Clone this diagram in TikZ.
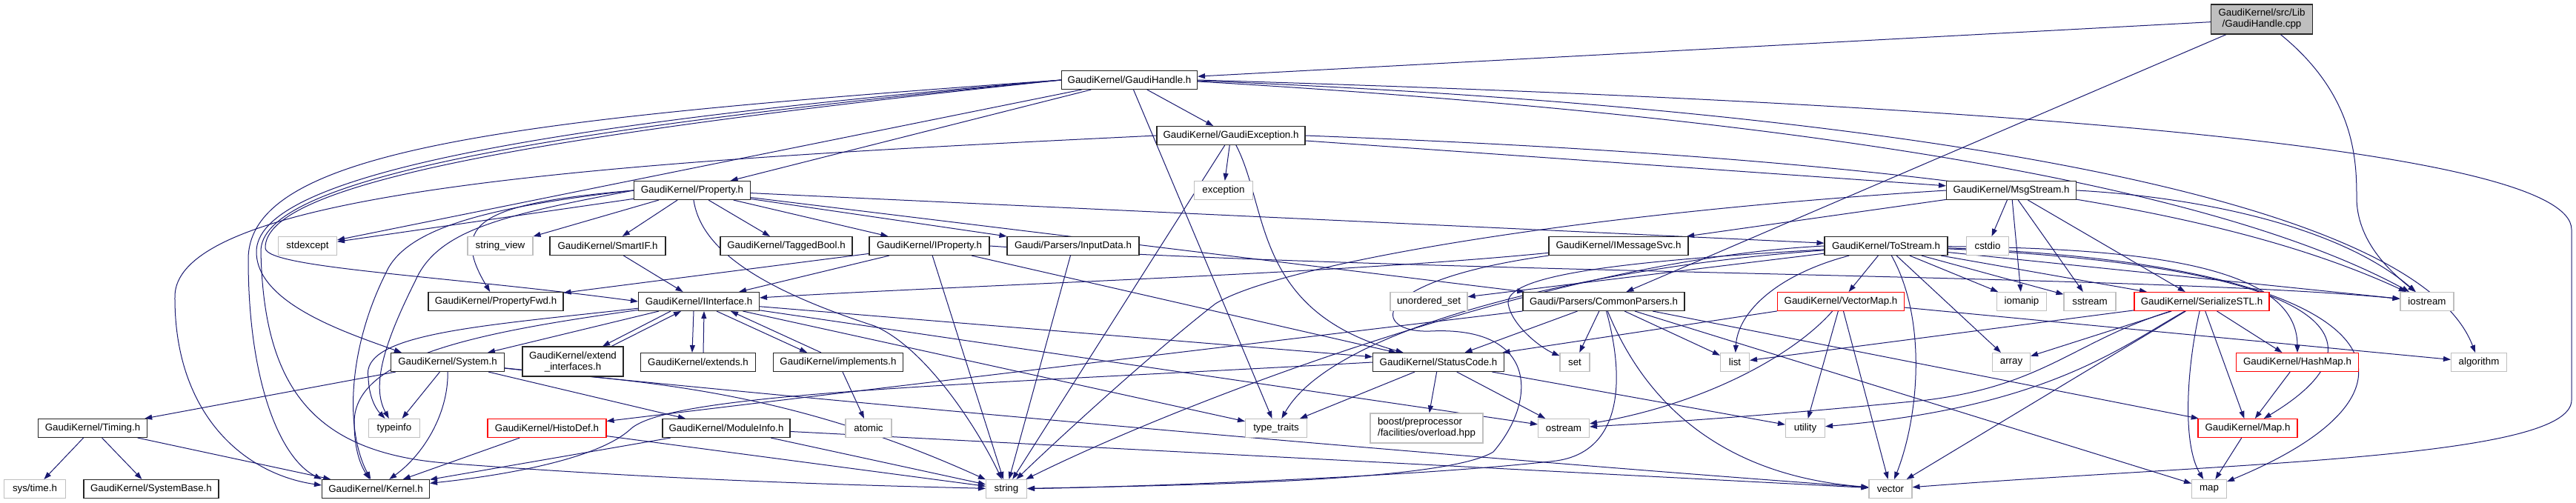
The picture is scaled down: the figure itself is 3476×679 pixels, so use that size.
\documentclass[tikz,border=0pt]{standalone}
\usepackage{fontspec}
\setmainfont{Liberation Sans}
\usetikzlibrary{arrows.meta,backgrounds}
\definecolor{edgecol}{HTML}{191970}
\definecolor{gray75}{HTML}{BFBFBF}
\newcommand\fsz{\fontsize{13.33}{15}\selectfont}
\tikzset{
  box/.style={rectangle, line width=1.1pt, minimum height=25, inner sep=2pt, font=\fsz, fill=white, text=black},
  nb/.style={box, draw=black!85},
  ng/.style={box, draw=gray75},
  nr/.style={box, draw=red},
  root/.style={box, draw=black!85, fill=gray75},
  e/.style={draw=edgecol, line width=1pt, -{Triangle[length=10pt,width=7pt]}},
}
\begin{document}
\begin{tikzpicture}[x=1pt,y=-1pt]
\useasboundingbox (0,0) rectangle (3476,679);
% nodes
\node[root, minimum width=137, minimum height=40, align=center] (cpp) at (3052,26) {GaudiKernel/src/Lib\\/GaudiHandle.cpp};
\node[nb, minimum width=183] (gh) at (1524,108) {GaudiKernel/GaudiHandle.h};
\node[nb, minimum width=200] (gex) at (1661,183) {GaudiKernel/GaudiException.h};
\node[ng, minimum width=79] (stdexcept) at (415,332) {stdexcept};
\node[nb, minimum width=157] (prop) at (934,257) {GaudiKernel/Property.h};
\node[nb, minimum width=175] (msgs) at (2714,257) {GaudiKernel/MsgStream.h};
\node[ng, minimum width=79] (exception) at (1651,257) {exception};
\node[ng, minimum width=88] (sv) at (675,332) {string\_view};
\node[nb, minimum width=156] (smartif) at (820,332) {GaudiKernel/SmartIF.h};
\node[nb, minimum width=178] (tagged) at (1061,332) {GaudiKernel/TaggedBool.h};
\node[nb, minimum width=162] (iprop) at (1254,332) {GaudiKernel/IProperty.h};
\node[nb, minimum width=178] (input) at (1448,332) {Gaudi/Parsers/InputData.h};
\node[nb, minimum width=188] (imsg) at (2184,332) {GaudiKernel/IMessageSvc.h};
\node[nb, minimum width=166] (tostream) at (2545,332) {GaudiKernel/ToStream.h};
\node[ng, minimum width=57] (cstdio) at (2682,332) {cstdio};
\node[nb, minimum width=182] (pfwd) at (669,407) {GaudiKernel/PropertyFwd.h};
\node[nb, minimum width=163] (iint) at (943,407) {GaudiKernel/IInterface.h};
\node[ng, minimum width=104] (uset) at (1928,407) {unordered\_set};
\node[nb, minimum width=218] (cparse) at (2164,407) {Gaudi/Parsers/CommonParsers.h};
\node[nr, minimum width=171] (vmap) at (2484,407) {GaudiKernel/VectorMap.h};
\node[ng, minimum width=67] (iomanip) at (2728,407) {iomanip};
\node[ng, minimum width=70] (sstream) at (2820,407) {sstream};
\node[nr, minimum width=182] (ser) at (2971,407) {GaudiKernel/SerializeSTL.h};
\node[ng, minimum width=72] (iostream) at (3275,407) {iostream};
\node[nb, minimum width=153] (system) at (604,489) {GaudiKernel/System.h};
\node[nb, minimum width=136, minimum height=40, align=center] (extint) at (773,488) {GaudiKernel/extend\\\_interfaces.h};
\node[nb, minimum width=155] (extends) at (942,489) {GaudiKernel/extends.h};
\node[nb, minimum width=175] (impl) at (1131,489) {GaudiKernel/implements.h};
\node[nb, minimum width=177] (status) at (1941,489) {GaudiKernel/StatusCode.h};
\node[ng, minimum width=40] (set) at (2125,489) {set};
\node[ng, minimum width=39] (list) at (2341,489) {list};
\node[ng, minimum width=51] (array) at (2714,489) {array};
\node[nr, minimum width=165] (hashmap) at (3100,489) {GaudiKernel/HashMap.h};
\node[ng, minimum width=75] (algorithm) at (3345,489) {algorithm};
\node[nb, minimum width=147] (timing) at (125,578) {GaudiKernel/Timing.h};
\node[ng, minimum width=69] (typeinfo) at (532,578) {typeinfo};
\node[nr, minimum width=160] (histo) at (738,578) {GaudiKernel/HistoDef.h};
\node[nb, minimum width=172] (modinfo) at (980,578) {GaudiKernel/ModuleInfo.h};
\node[ng, minimum width=62] (atomic) at (1172,578) {atomic};
\node[ng, minimum width=83] (typetraits) at (1722,578) {type\_traits};
\node[ng, minimum width=152, minimum height=40, align=left] (boost) at (1925,578) {boost/preprocessor\\/facilities/overload.hpp};
\node[ng, minimum width=69] (ostream) at (2110,578) {ostream};
\node[ng, minimum width=53] (utility) at (2436,578) {utility};
\node[nr, minimum width=134] (maph) at (3033,578) {GaudiKernel/Map.h};
\node[ng, minimum width=83] (systime) at (47,660) {sys/time.h};
\node[nb, minimum width=182] (sysbase) at (204,660) {GaudiKernel/SystemBase.h};
\node[nb, minimum width=145] (kernel) at (507,660) {GaudiKernel/Kernel.h};
\node[ng, minimum width=55] (string) at (1358,660) {string};
\node[ng, minimum width=58] (vector) at (2551,660) {vector};
\node[ng, minimum width=47] (map) at (2981,660) {map};
\begin{pgfonlayer}{background}
\fill[white] (0,0) rectangle (3476,679);
% GaudiHandle.cpp
\draw[e] (cpp) -- (gh);
\draw[e] (cpp) -- (cparse);
\draw[e] (cpp) .. controls (3180,130) and (3180,220) .. (3180,270) .. controls (3182,330) and (3230,370) .. (iostream);
% GaudiHandle.h
\draw[e] (gh) -- (gex);
\draw[e] (gh) -- (prop);
\draw[e] (gh) -- (stdexcept);
\draw[e] (gh) -- (typetraits);
\draw[e] (gh.west) .. controls (700,160) and (335,200) .. (335,350) .. controls (335,520) and (380,620) .. (kernel.north west);
\draw[e] (gh.west) .. controls (700,170) and (346,240) .. (346,340) .. controls (346,410) and (470,450) .. ([xshift=15pt]system.north west);
\draw[e] (gh.west) .. controls (700,185) and (356,250) .. (358,335) .. controls (360,362) and (600,372) .. (iint.west);
\draw[e] (gh.west) .. controls (700,178) and (350,245) .. (352,340) .. controls (356,520) and (420,610) .. (600,625) .. controls (900,648) and (1150,655) .. (string);
\draw[e] ([yshift=-2pt]gh.east) .. controls (2300,150) and (2950,230) .. (iostream);
\draw[e] ([yshift=-1pt]gh.east) .. controls (2400,140) and (3250,240) .. (algorithm);
\draw[e] (gh.east) .. controls (2700,140) and (3470,200) .. (3470,310) -- (3470,540) .. controls (3470,620) and (3000,625) .. (vector);
% GaudiException.h
\draw[e] (gex) -- (exception);
\draw[e] (gex) -- (string);
\draw[e] (gex) -- (msgs);
\draw[e] (gex.west) .. controls (900,215) and (237,250) .. (236,400) .. controls (235,560) and (330,640) .. ([yshift=5pt]kernel.west);
\draw[e] (gex) .. controls (1712,280) and (1690,420) .. (status);
\draw[e] (gex.east) .. controls (2600,215) and (3000,280) .. (iostream);
% Property.h
\draw[e] (prop) -- (sv);
\draw[e] (prop) -- (smartif);
\draw[e] (prop) -- (tagged);
\draw[e] (prop) -- (iprop);
\draw[e] (prop) -- (input);
\draw[e] (prop) -- (tostream);
\draw[e] (prop) -- (cparse);
\draw[e] (prop) -- (stdexcept);
\draw[e] (prop.west) .. controls (680,290) and (590,310) .. (560,380) .. controls (520,460) and (500,520) .. (typeinfo);
\draw[e] (prop.west) .. controls (650,280) and (545,310) .. (520,370) .. controls (470,470) and (465,580) .. (kernel);
\draw[e] (prop.west) .. controls (650,275) and (605,300) .. (pfwd);
\draw[e] (prop) .. controls (945,330) and (1010,385) .. (1180,440) .. controls (1250,470) and (1320,580) .. (string);
% others row 3
\draw[e] (smartif) -- (iint);
\draw[e] (iprop) -- (iint);
\draw[e] (iprop) -- (pfwd);
\draw[e] (iprop) -- (string);
\draw[e] (iprop) -- (status);
\draw[e] (iprop.east) .. controls (1900,370) and (2900,370) .. (iostream);
\draw[e] (input) -- (string);
% IMessageSvc.h
\draw[e] (imsg) .. controls (1800,370) and (1300,385) .. (iint);
\draw[e] (imsg.south west) .. controls (1840,380) and (1850,450) .. (1930,447) .. controls (2075,440) and (2075,540) .. (2015,610) .. controls (1950,650) and (1600,655) .. (string);
% MsgStream.h
\draw[e] (msgs) -- (imsg);
\draw[e] (msgs) -- (cstdio);
\draw[e] (msgs) -- (iomanip);
\draw[e] (msgs) -- (sstream);
\draw[e] (msgs) -- (ser);
\draw[e] (msgs.west) .. controls (2100,290) and (1720,360) .. (1640,410) .. controls (1550,480) and (1420,600) .. (string);
\draw[e] (msgs.east) .. controls (2950,265) and (3150,300) .. (iostream);
% ToStream.h
\draw[e] (tostream) -- (vmap);
\draw[e] (tostream) -- (iomanip);
\draw[e] (tostream) -- (sstream);
\draw[e] (tostream) -- (ser);
\draw[e] (tostream) -- (array);
\draw[e] (tostream) -- (iostream);
\draw[e] (tostream) -- (uset);
\draw[e] (tostream) .. controls (2400,370) and (2345,420) .. (list);
\draw[e] (tostream) .. controls (2600,430) and (2590,560) .. (vector);
\draw[e] (tostream.west) .. controls (2100,350) and (1600,540) .. (string);
\draw[e] (tostream) .. controls (2150,360) and (1800,440) .. (typetraits);
\draw[e] (tostream) .. controls (2200,352) and (2030,370) .. (2035,410) .. controls (2040,440) and (2080,470) .. (set);
\draw[e] (tostream) .. controls (2900,335) and (3100,360) .. (hashmap);
\draw[e] (tostream) .. controls (3150,360) and (3230,460) .. (maph);
\draw[e] (tostream) .. controls (3220,355) and (3320,520) .. (map);
% CommonParsers.h
\draw[e] (cparse) -- (status);
\draw[e] (cparse) -- (set);
\draw[e] (cparse) -- (list);
\draw[e] (cparse) -- (maph);
\draw[e] (cparse) -- (map);
\draw[e] (cparse) -- (histo);
\draw[e] (cparse) .. controls (2195,520) and (2185,610) .. (2100,622) .. controls (1900,645) and (1500,658) .. (string);
\draw[e] (cparse) .. controls (2210,520) and (2300,640) .. (vector);
% VectorMap.h
\draw[e] (vmap) -- (vector);
\draw[e] (vmap) -- (utility);
\draw[e] (vmap) -- (algorithm);
\draw[e] (vmap) -- (status);
\draw[e] (vmap) .. controls (2420,480) and (2300,545) .. (ostream);
% SerializeSTL.h
\draw[e] (ser) -- (list);
\draw[e] (ser) -- (array);
\draw[e] (ser) -- (vector);
\draw[e] (ser) -- (maph);
\draw[e] (ser) -- (hashmap);
\draw[e] (ser) .. controls (2800,460) and (2760,520) .. (2600,540) .. controls (2400,560) and (2250,570) .. (ostream);
\draw[e] (ser) .. controls (2860,470) and (2760,550) .. (utility);
\draw[e] (ser) .. controls (2950,500) and (2945,600) .. (map);
% HashMap.h, Map.h
\draw[e] (hashmap) -- (maph);
\draw[e] (maph) -- (map);
% StatusCode.h
\draw[e] (status) -- (typetraits);
\draw[e] (status) -- (boost);
\draw[e] (status) -- (ostream);
\draw[e] (status) -- (utility);
\draw[e] (status.west) .. controls (1300,520) and (900,530) .. (850,580) .. controls (800,625) and (650,645) .. (kernel);
% System.h
\draw[e] (system) -- (timing);
\draw[e] (system) -- (typeinfo);
\draw[e] (system) -- (modinfo);
\draw[e] (system) .. controls (1200,550) and (2000,620) .. (vector);
\draw[e] (system) .. controls (605,560) and (570,615) .. (kernel);
\draw[e] (system) .. controls (850,515) and (1050,520) .. (string);
% Timing.h
\draw[e] (timing) -- (systime);
\draw[e] (timing) -- (sysbase);
\draw[e] (timing) -- (kernel);
% HistoDef.h, ModuleInfo.h
\draw[e] (histo) -- (kernel);
\draw[e] (histo) -- (string);
\draw[e] (modinfo) -- (kernel);
\draw[e] (modinfo) -- (string);
\draw[e] (modinfo) -- (vector);
% IInterface.h
\draw[e] (iint) .. controls (650,440) and (485,450) .. (497,510) .. controls (498,540) and (510,555) .. (typeinfo);
\draw[e] (iint) .. controls (650,448) and (478,480) .. (478,570) .. controls (478,610) and (488,630) .. (kernel);
\draw[e] (iint) -- (system);
\draw[e] ([xshift=-38pt]iint.south) -- ([xshift=40pt]extint.north);
\draw[e] ([xshift=52pt]extint.north) -- ([xshift=-24pt]iint.south);
\draw[e] ([xshift=-7pt]iint.south) -- ([xshift=-8pt]extends.north);
\draw[e] ([xshift=7pt]extends.north) -- ([xshift=7pt]iint.south);
\draw[e] ([xshift=24pt]iint.south) -- ([xshift=-42pt]impl.north);
\draw[e] ([xshift=-23pt]impl.north) -- ([xshift=43pt]iint.south);
\draw[e] (impl) -- (atomic);
\draw[e] (iint) -- (status);
\draw[e] (iint) -- (ostream);
\draw[e] (iint) -- (typetraits);
\end{pgfonlayer}
\end{tikzpicture}
\end{document}
